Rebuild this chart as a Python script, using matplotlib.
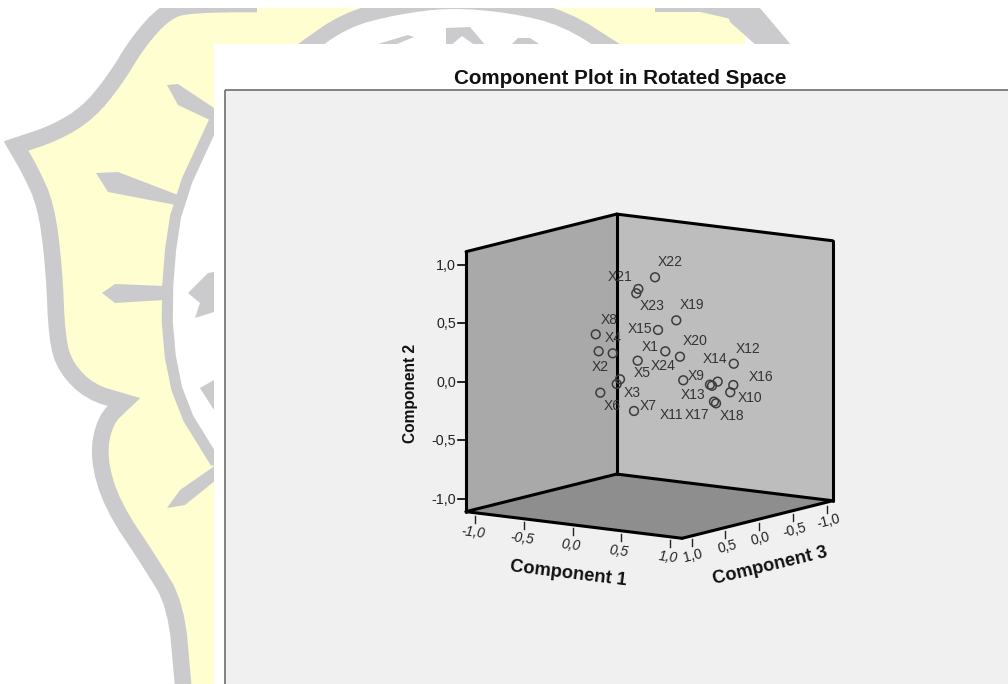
import matplotlib
matplotlib.use("Agg")
import matplotlib.pyplot as plt
from matplotlib.patches import Polygon, Rectangle
import numpy as np

plt.rcParams['font.family'] = ['Liberation Sans', 'DejaVu Sans']

# ---- data -------------------------------------------------------------
labels = ['X1','X2','X3','X4','X5','X6','X7','X8','X9','X10','X11','X12',
          'X13','X14','X15','X16','X17','X18','X19','X20','X21','X22','X23','X24']
comp1 = [.234,-.103,-.057,-.028,.089,-.086,.121,-.133,.349,.693,.595,.659,
         .554,.633,.159,.724,.575,.616,.277,.315,.026,.128,.005,-.023]
comp2 = [.251,.289,-.015,.265,.185,-.063,-.227,.431,.001,-.095,-.171,.131,
         -.030,.004,.426,-.030,-.037,-.183,.506,.199,.777,.873,.738,.029]
comp3 = [.1,.6,.4,.5,.3,.6,.4,.6,0,-.2,-.1,-.3,
         -.1,-.1,.1,-.2,-.1,-.1,0,0,.2,.1,.2,.4]
tick_values = [-1.0,-0.5,0.0,0.5,1.0]
tick_labels = ['-1,0','-0,5','0,0','0,5','1,0']
# label offset from marker (pixels, right / up)
label_dx = [-14.7,1.3,15.7,0,5,12.3,13.7,13.3,13.3,19.3,-42.3,14.7,
            -17,-3,-18,28,-15.3,15.7,15.3,15.3,-18.3,15,16.3,43.3]
label_dy = [4.7,-15.7,-8.7,15.7,-12.7,-13,5.3,14,4.7,-6,-13,15,
            -10.7,22.3,.7,7.7,-29,-12.3,15.3,15.3,12.3,15,-13,13.3]

W, H = 1008, 684
fig = plt.figure(figsize=(W/100, H/100), dpi=100, facecolor='white')
ax = fig.add_axes([0, 0, 1, 1])
ax.set_xlim(0, W); ax.set_ylim(H, 0); ax.axis('off')

def smooth(pts, n=2):
    p = np.array(pts, float)
    for _ in range(n):
        q = [p[0]]
        for a, b in zip(p[:-1], p[1:]):
            q += [0.75*a+0.25*b, 0.25*a+0.75*b]
        q.append(p[-1])
        p = np.array(q)
    return p

# ---- watermark behind the panel ---------------------------------------
GRAY, YEL = '#cbcbcd', '#fefed0'
band = [(300,4),(190,4),(165,12),(138,42),(115,80),(88,113),(55,133),(16,146)]
band2 = [(16,146),(30,170),(46,205),(54,267),(57,340),(66,368),(90,392),(124,402)]
band3 = [(124,402),(105,420),(98,457),(112,505),(150,562),(176,605),(183,684)]
outline = np.vstack([smooth(band), smooth(band2), smooth(band3), [(183,700),(300,700)]])
ax.add_patch(Polygon(outline, closed=True, fc=YEL, ec=GRAY, lw=12, joinstyle='miter', zorder=1))
inner = smooth([(214,122),(178,200),(168,267),(167,340),(180,405),(214,460)], 1)
ax.add_patch(Polygon(np.vstack([inner, [(260,460),(260,122)]]), closed=True, fc='white', ec=GRAY,
                     lw=8, joinstyle='miter', zorder=2))
for pts in [[(167,85),(178,105),(214,122),(214,108),(178,84)],
            [(96,173),(108,192),(176,205),(178,195),(118,172)],
            [(102,293),(115,303),(165,300),(165,286),(115,284)],
            [(167,508),(185,505),(216,480),(216,465),(180,490)],
            [(188,293),(208,273),(214,272),(214,312),(195,318),(200,303)],
            [(200,388),(214,380),(214,410)]]:
    ax.add_patch(Polygon(pts, closed=True, fc=GRAY, ec='none', zorder=3))
# top strip of the watermark: yellow ground, white arch, gray strokes
ax.add_patch(Rectangle((257,0),488,48,fc=YEL,ec='none',zorder=1.2))
arch = smooth([(300,52),(345,20),(395,7),(450,0),(510,5),(565,18),(618,52)])
ax.add_patch(Polygon(arch, closed=True, fc='white', ec=GRAY, lw=11, joinstyle='round', zorder=2))
for pts in [[(378,44),(408,35),(414,37),(392,46)],
            [(446,28),(470,27),(486,46),(476,46),(462,36),(450,46),(446,46)],
            [(510,46),(518,38),(530,38),(542,46)],
            [(655,8),(725,8),(745,22),(700,12),(655,12)]]:
    ax.add_patch(Polygon(pts, closed=True, fc=GRAY, ec='none', zorder=3))
ax.add_patch(Polygon([(745,20),(760,46),(800,46),(800,0),(745,0)],closed=True,fc='white',ec='none',zorder=1.5))
ax.add_patch(Polygon([(725,8),(760,8),(792,46),(757,46),(730,22)],closed=True,fc=GRAY,ec='none',zorder=3))
ax.add_patch(Rectangle((0,0),W,8,fc='white',ec='none',zorder=4))

# ---- panel ------------------------------------------------------------
ax.add_patch(Rectangle((214,44),W-214,H-44,fc='white',ec='none',zorder=5))
ax.add_patch(Rectangle((225,90),W-225,H-90,fc='#f0f0f0',ec='none',zorder=6))
ax.plot([225,225],[H,90],color='#6e6e6e',lw=1.2,zorder=7,solid_capstyle='butt')
ax.plot([225,W],[90,90],color='#6e6e6e',lw=1.2,zorder=7,solid_capstyle='butt')
ax.text(620,84,'Component Plot in Rotated Space',ha='center',va='baseline',
        fontsize=14.9,fontweight='bold',color='#111111',zorder=8)

# ---- 3-D box, orthographic projection ---------------------------------
R = 1.111
C = np.array([649.35, 376.2])
U1 = np.array([97.2, 12.0]); U2 = np.array([0.0, -117.0]); U3 = np.array([-67.8, 16.9])
def proj(a, b, c):
    return C + np.multiply.outer(a, U1) + np.multiply.outer(b, U2) + np.multiply.outer(c, U3)

corner = lambda a, b, c: tuple(proj(a*R, b*R, c*R))
A = corner(-1,-1,-1)   # back bottom
Lb = corner(-1,-1,1)   # left bottom
Rb = corner(1,-1,-1)   # right bottom
F = corner(1,-1,1)     # front bottom
At = corner(-1,1,-1); Lt = corner(-1,1,1); Rt = corner(1,1,-1)
Z = 10
ax.add_patch(Polygon([Lb,A,At,Lt],closed=True,fc='#a9a9a9',ec='none',zorder=Z))
ax.add_patch(Polygon([A,Rb,Rt,At],closed=True,fc='#bdbdbd',ec='none',zorder=Z))
ax.add_patch(Polygon([Lb,A,Rb,F],closed=True,fc='#8e8e8e',ec='none',zorder=Z))
for p, q in [(Lb,Lt),(Lt,At),(At,Rt),(Rt,Rb),(A,At),(A,Lb),(A,Rb),(Lb,F),(F,Rb)]:
    ax.plot([p[0],q[0]],[p[1],q[1]],color='black',lw=2.2,solid_capstyle='round',zorder=Z+3)

# ---- ticks ------------------------------------------------------------
TC = '#222222'
for v, s in zip(tick_values, tick_labels):
    p = proj(-R, v, R)
    ax.plot([p[0]-8,p[0]],[p[1],p[1]],color='black',lw=1.2,zorder=Z)
    ax.text(p[0]-10,p[1]+1,s,ha='right',va='center',fontsize=10.3,color=TC,zorder=Z)
    p = proj(v, -R, R) + np.array([-1.5,0])
    ax.plot([p[0],p[0]],[p[1]+3,p[1]+10],color='#222222',lw=1,zorder=Z)
    ax.text(p[0]-2,p[1]+20,s,ha='center',va='center',fontsize=10,style='italic',
            rotation=-7,rotation_mode='anchor',color=TC,zorder=Z)
    p = proj(R, -R, v) + np.array([2,0])
    ax.plot([p[0],p[0]],[p[1]+3,p[1]+10],color='#222222',lw=1,zorder=Z)
    ax.text(p[0]+1.5,p[1]+19,s,ha='center',va='center',fontsize=10,
            rotation=14,rotation_mode='anchor',color=TC,zorder=Z)

ax.text(411,393,'Component 2',rotation=90,ha='center',va='center',fontsize=11.2,
        fontweight='bold',color='#111111',zorder=Z)
ax.text(568.5,574,'Component 1',rotation=-7,rotation_mode='anchor',ha='center',va='center',
        fontsize=13.2,fontweight='bold',color='#111111',zorder=Z)
ax.text(770,566,'Component 3',rotation=13.5,rotation_mode='anchor',ha='center',va='center',
        fontsize=13.2,fontweight='bold',color='#111111',zorder=Z)

# ---- points -----------------------------------------------------------
xy = proj(np.array(comp1), np.array(comp2), np.array(comp3))
ax.scatter(xy[:,0], xy[:,1], s=40, facecolors='none', edgecolors='#3c3c3c', linewidths=1.1, zorder=Z+4)
for (x, y), s, dx, dy in zip(xy, labels, label_dx, label_dy):
    ax.annotate(s, (x, y), xytext=(dx, dy), textcoords='offset pixels', ha='center', va='center',
                fontsize=10, color='#333333', zorder=Z+5)

fig.savefig('out.png', dpi=100)
